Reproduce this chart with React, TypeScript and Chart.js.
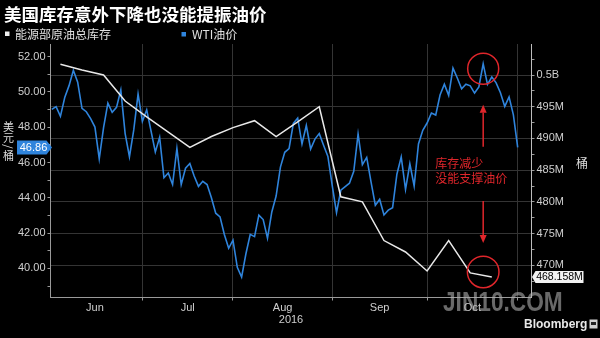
import React, { useEffect, useRef } from "react";
import { Chart, registerables } from "chart.js";

Chart.register(...registerables);

// ---------- text ----------
const TITLE = "美国库存意外下降也没能提振油价";
const LEGEND_INV = "能源部原油总库存";
const LEGEND_WTI = "WTI油价";
const LEFT_AXIS_TITLE = ["美", "元", "/", "桶"];
const RIGHT_AXIS_TITLE = "桶";
const NOTE_LINES = ["库存减少", "没能支撑油价"];
const YEAR_LABEL = "2016";
const MONTH_LABELS = ["Jun", "Jul", "Aug", "Sep", "Oct"];
const WATERMARK = "JIN10.COM";
const SOURCE = "Bloomberg";

// ---------- calendar ----------
const FIRST_DAY = "2016-06-01";
const LAST_DAY = "2016-10-31";
const HOLIDAYS = ["2016-07-04", "2016-09-05"];
const NOTE_DATE = "2016-10-19";

// ---------- WTI daily closes (USD/bbl), trading days ----------
const wtiJun = [49.01, 49.17, 48.62, 49.69, 50.36, 51.23, 50.56, 49.07, 48.88, 48.49, 48.01, 46.21, 47.98, 49.37, 48.85, 49.13, 50.11, 47.64, 46.33, 47.85, 49.88, 48.33];
const wtiJul = [48.99, 46.6, 47.43, 45.14, 45.41, 44.76, 46.8, 44.75, 45.68, 45.95, 45.24, 44.65, 44.94, 44.75, 44.0, 43.13, 42.92, 41.92, 41.14, 41.6];
const wtiAug = [40.06, 39.51, 40.83, 41.93, 41.8, 43.02, 42.77, 41.71, 43.2, 44.1, 45.74, 46.58, 46.79, 48.22, 48.52, 47.05, 48.1, 46.77, 47.33, 47.64, 46.98, 46.35, 44.7];
const wtiSep = [43.16, 44.44, 44.83, 45.5, 47.62, 45.88, 46.29, 44.9, 43.58, 43.91, 43.03, 43.3, 43.44, 45.34, 46.32, 44.48, 45.93, 44.67, 47.05, 47.83, 48.24];
const wtiOct = [48.81, 48.69, 49.83, 50.44, 49.81, 51.35, 50.79, 50.18, 50.44, 50.35, 49.94, 50.29, 51.6, 50.43, 50.85, 50.52, 49.96, 49.18, 49.72, 48.7, 46.86];

// ---------- DOE crude inventory (million bbl), weekly ----------
const invDates = ["2016-06-03", "2016-06-10", "2016-06-17", "2016-06-24", "2016-07-01", "2016-07-08", "2016-07-15", "2016-07-22", "2016-07-29", "2016-08-05", "2016-08-12", "2016-08-19", "2016-08-26", "2016-09-02", "2016-09-09", "2016-09-16", "2016-09-23", "2016-09-30", "2016-10-07", "2016-10-14", "2016-10-21"];
const invValues = [501.7, 500.8, 500.0, 495.9, 493.4, 491.0, 488.6, 490.3, 491.7, 492.8, 490.3, 492.6, 495.0, 480.8, 480.0, 473.9, 472.1, 469.1, 473.9, 468.8, 468.158];

// ---------- axis ticks ----------
const LEFT_TICKS = [39, 40, 41, 42, 43, 44, 45, 46, 47, 48, 49, 50, 51, 52];
const RIGHT_TICKS = [467.5, 470, 472.5, 475, 477.5, 480, 482.5, 485, 487.5, 490, 492.5, 495, 497.5, 500, 502.5];

// ---------- derived ----------
const wtiValues = [...wtiJun, ...wtiJul, ...wtiAug, ...wtiSep, ...wtiOct];

function buildWeekdays(from: string, to: string) {
  const out: string[] = [];
  const d = new Date(from + "T00:00:00Z");
  const end = new Date(to + "T00:00:00Z");
  while (d.getTime() <= end.getTime()) {
    const wd = d.getUTCDay();
    if (wd !== 0 && wd !== 6) out.push(d.toISOString().slice(0, 10));
    d.setUTCDate(d.getUTCDate() + 1);
  }
  return out;
}
const WEEKDAYS = buildWeekdays(FIRST_DAY, LAST_DAY);
const TRADING_DAYS = WEEKDAYS.filter((d) => !HOLIDAYS.includes(d));
const xOf = (date: string) => WEEKDAYS.indexOf(date);

const MONTH_ENDS: number[] = [];
WEEKDAYS.forEach((d, i) => {
  const next = WEEKDAYS[i + 1];
  if (!next || next.slice(5, 7) !== d.slice(5, 7)) MONTH_ENDS.push(i);
});
const MONTH_MIDS = MONTH_ENDS.map((e, i) => ((i === 0 ? -1 : MONTH_ENDS[i - 1]) + e) / 2);
const X_LABELS = new Map<number, string>();
MONTH_MIDS.forEach((m, i) => X_LABELS.set(m, MONTH_LABELS[i]));
const X_TICKS = [...MONTH_ENDS, ...MONTH_MIDS].sort((a, b) => a - b);

const FONT = "'Liberation Sans', Arial, 'Noto Sans CJK SC', sans-serif";
const CJK = "'Noto Sans CJK SC', 'Liberation Sans', sans-serif";
const RED = "#e0262b";
const GRID = "#343434";
const AXIS = "#9a9a9a";
const LABEL = "#cfcfcf";
const BLUE = "#2f84dc";

function arrow(ctx: CanvasRenderingContext2D, x: number, y0: number, tip: number) {
  const dir = tip > y0 ? 1 : -1;
  const head = 8;
  ctx.beginPath();
  ctx.moveTo(x, y0);
  ctx.lineTo(x, tip - dir * head);
  ctx.stroke();
  ctx.beginPath();
  ctx.moveTo(x, tip);
  ctx.lineTo(x - 3.5, tip - dir * head);
  ctx.lineTo(x + 3.5, tip - dir * head);
  ctx.closePath();
  ctx.fill();
}

const overlayPlugin = {
  id: "overlay",
  afterDatasetsDraw(chart: any) {
    const { ctx, scales } = chart;
    const nx = scales.x.getPixelForValue(xOf(NOTE_DATE));
    const peak = wtiValues[TRADING_DAYS.indexOf(NOTE_DATE)];
    const topCy = scales.y.getPixelForValue(peak) + 5;
    const botCy = scales.y2.getPixelForValue(invValues[invValues.length - 1]) - 5;
    ctx.save();
    ctx.strokeStyle = RED;
    ctx.fillStyle = RED;
    ctx.lineWidth = 1.5;
    ctx.beginPath();
    ctx.arc(nx, topCy, 15.5, 0, Math.PI * 2);
    ctx.stroke();
    ctx.beginPath();
    ctx.arc(nx, botCy, 15.8, 0, Math.PI * 2);
    ctx.stroke();
    const upFrom = topCy + 78;
    const downFrom = botCy - 71;
    arrow(ctx, nx, upFrom, topCy + 36);
    arrow(ctx, nx, downFrom, botCy - 29);
    const mid = (upFrom + downFrom) / 2;
    ctx.font = `12px ${CJK}`;
    ctx.textAlign = "left";
    ctx.textBaseline = "middle";
    ctx.fillText(NOTE_LINES[0], nx - 48, mid - 10.5);
    ctx.fillText(NOTE_LINES[1], nx - 48, mid + 4.5);
    ctx.restore();
  },
  afterDraw(chart: any) {
    const { ctx, scales, chartArea } = chart;
    ctx.save();
    // title
    ctx.fillStyle = "#ffffff";
    ctx.font = `bold 17.5px ${CJK}`;
    ctx.textAlign = "left";
    ctx.textBaseline = "middle";
    ctx.fillText(TITLE, 4, 14);
    // legend
    ctx.fillStyle = "#f0f0f0";
    ctx.fillRect(5, 31.5, 4.5, 4.5);
    ctx.fillStyle = BLUE;
    ctx.fillRect(181.5, 32, 4.5, 4.5);
    ctx.fillStyle = "#e0e0e0";
    ctx.font = `12px ${CJK}`;
    ctx.fillText(LEGEND_INV, 15, 34.5);
    ctx.fillText(LEGEND_WTI, 192, 34.5);
    // left axis title (stacked)
    ctx.fillStyle = "#dddddd";
    ctx.font = `11px ${CJK}`;
    ctx.textAlign = "center";
    const ly = [127, 137.5, 146.5, 155.5];
    LEFT_AXIS_TITLE.forEach((ch, i) => {
      if (ch === "/") {
        ctx.save();
        ctx.translate(8.5, ly[i]);
        ctx.rotate(Math.PI / 2);
        ctx.fillText(ch, 0, 0);
        ctx.restore();
      } else ctx.fillText(ch, 8.5, ly[i]);
    });
    // right axis title
    ctx.font = `12px ${CJK}`;
    ctx.fillText(RIGHT_AXIS_TITLE, 582, 163);
    // value tag left (WTI)
    const lastW = wtiValues[wtiValues.length - 1];
    const wy = scales.y.getPixelForValue(lastW);
    const L = chartArea.left;
    ctx.fillStyle = BLUE;
    ctx.beginPath();
    ctx.moveTo(L - 33.5, wy - 7);
    ctx.lineTo(L - 4, wy - 7);
    ctx.lineTo(L + 1.5, wy);
    ctx.lineTo(L - 4, wy + 7);
    ctx.lineTo(L - 33.5, wy + 7);
    ctx.closePath();
    ctx.fill();
    ctx.fillStyle = "#ffffff";
    ctx.font = `11px ${FONT}`;
    ctx.textAlign = "center";
    ctx.fillText(lastW.toFixed(2), L - 17, wy + 0.5);
    // value tag right (inventory)
    const lastI = invValues[invValues.length - 1];
    const iy = scales.y2.getPixelForValue(lastI);
    const R = chartArea.right;
    ctx.fillStyle = "#f2f2f2";
    ctx.beginPath();
    ctx.moveTo(R + 0.5, iy);
    ctx.lineTo(R + 4, iy - 6);
    ctx.lineTo(R + 52, iy - 6);
    ctx.lineTo(R + 52, iy + 6);
    ctx.lineTo(R + 4, iy + 6);
    ctx.closePath();
    ctx.fill();
    ctx.fillStyle = "#000000";
    ctx.font = `10.5px ${FONT}`;
    ctx.fillText(lastI.toFixed(3) + "M", R + 28, iy + 0.5);
    // watermark
    ctx.save();
    ctx.translate(443, 304);
    ctx.scale(0.84, 1);
    ctx.fillStyle = "rgba(175,175,175,0.6)";
    ctx.font = `bold 27px ${FONT}`;
    ctx.textAlign = "left";
    ctx.textBaseline = "middle";
    ctx.fillText(WATERMARK, 0, 0);
    ctx.restore();
    // source
    ctx.fillStyle = "#e8e8e8";
    ctx.font = `bold 12px ${FONT}`;
    ctx.textAlign = "left";
    ctx.textBaseline = "middle";
    ctx.fillText(SOURCE, 524, 325);
    ctx.fillStyle = "#d0d0d0";
    ctx.fillRect(589.5, 319.5, 8, 9);
    ctx.fillStyle = "#222";
    ctx.fillRect(591, 322, 5, 3);
    ctx.restore();
  },
};

export default function App() {
  const ref = useRef<HTMLCanvasElement | null>(null);
  useEffect(() => {
    if (!ref.current) return;
    const wtiData = TRADING_DAYS.map((d, i) => ({ x: xOf(d), y: wtiValues[i] }));
    const invData = invDates.map((d, i) => ({ x: xOf(d), y: invValues[i] }));
    const endSet = new Set(MONTH_ENDS);
    const chart = new Chart(ref.current, {
      type: "line",
      data: {
        datasets: [
          { label: LEGEND_INV, data: invData, yAxisID: "y2", borderColor: "#e8e8e8", borderWidth: 1.5, pointRadius: 0, tension: 0 },
          { label: LEGEND_WTI, data: wtiData, yAxisID: "y", borderColor: BLUE, borderWidth: 1.6, pointRadius: 0, tension: 0 },
        ],
      },
      options: {
        animation: false,
        responsive: false,
        events: [],
        layout: { padding: { top: 44, left: 0, right: 0, bottom: 0 } },
        plugins: { legend: { display: false }, tooltip: { enabled: false }, title: { display: false } },
        scales: {
          x: {
            type: "linear",
            min: -0.3,
            max: 111.2,
            afterBuildTicks: (s: any) => {
              s.ticks = X_TICKS.map((v) => ({ value: v }));
            },
            afterFit: (s: any) => {
              s.height = 40.5;
            },
            ticks: {
              autoSkip: false,
              maxRotation: 0,
              padding: 1,
              color: LABEL,
              font: { family: FONT, size: 11 },
              callback: (v: any) => X_LABELS.get(Number(v)) ?? "",
            },
            grid: {
              drawOnChartArea: true,
              tickLength: 3,
              color: (c: any) => (c.tick && endSet.has(c.tick.value) ? GRID : "rgba(0,0,0,0)"),
              tickColor: (c: any) => (c.tick && endSet.has(c.tick.value) ? AXIS : "rgba(0,0,0,0)"),
            },
            border: { display: true, color: AXIS },
            title: {
              display: true,
              text: YEAR_LABEL,
              color: LABEL,
              font: { family: FONT, size: 11 },
              padding: { top: 0, bottom: 11.4 },
            },
          },
          y: {
            type: "linear",
            position: "left",
            min: 38.35,
            max: 52.72,
            afterBuildTicks: (s: any) => {
              s.ticks = LEFT_TICKS.map((v) => ({ value: v }));
            },
            afterFit: (s: any) => {
              s.width = 50.5;
            },
            ticks: {
              padding: 2,
              color: LABEL,
              font: { family: FONT, size: 11 },
              callback: (v: any) => (Number(v) % 2 === 0 ? Number(v).toFixed(2) : ""),
            },
            grid: { drawOnChartArea: false, tickLength: 3, tickColor: AXIS },
            border: { display: true, color: AXIS },
          },
          y2: {
            type: "linear",
            position: "right",
            min: 464.92,
            max: 504.89,
            afterBuildTicks: (s: any) => {
              s.ticks = RIGHT_TICKS.map((v) => ({ value: v }));
            },
            afterFit: (s: any) => {
              s.width = 68.5;
            },
            ticks: {
              padding: 2,
              color: LABEL,
              font: { family: FONT, size: 11 },
              callback: (v: any) => {
                const n = Number(v);
                if (n % 5 !== 0) return "";
                return n >= 500 ? `${n / 1000}B` : `${n}M`;
              },
            },
            grid: {
              drawOnChartArea: true,
              tickLength: 3,
              color: (c: any) => (c.tick && c.tick.value % 5 === 0 ? GRID : "rgba(0,0,0,0)"),
              tickColor: AXIS,
            },
            border: { display: true, color: "#bdbdbd" },
          },
        },
      },
      plugins: [overlayPlugin],
    } as any);
    return () => chart.destroy();
  }, []);
  return (
    <div style={{ position: "fixed", left: 0, top: 0, width: 600, height: 338, background: "#000" }}>
      <canvas ref={ref} width={600} height={338} style={{ display: "block", width: 600, height: 338 }} />
    </div>
  );
}
